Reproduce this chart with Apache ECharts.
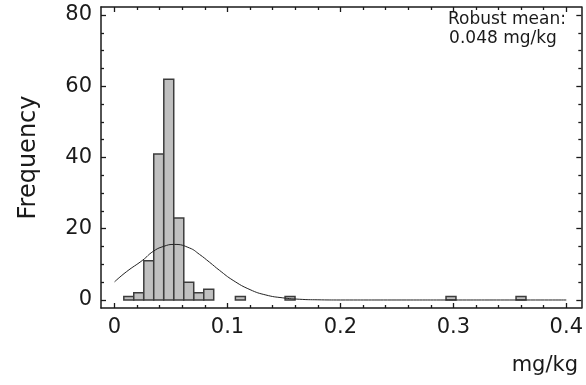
<!DOCTYPE html>
<html>
<head>
<meta charset="utf-8">
<script src="https://cdn.jsdelivr.net/npm/echarts@6.0.0/dist/echarts.min.js"></script>
<style>
html, body { margin: 0; padding: 0; background: #fff; }
#container { width: 586px; height: 385px; }
</style>
</head>
<body>
<div id="container"></div>
<script>
// histogram bins (left edge, mg/kg) and counts
var binStart = [0.0082, 0.0170, 0.0259, 0.0347, 0.0436, 0.0525, 0.0613, 0.0702, 0.0790, 0.1070, 0.1510, 0.2935, 0.3555];
var binWidth = 0.0088;
var binCount = [1, 2, 11, 41, 62, 23, 5, 2, 3, 1, 1, 1, 1];

// fitted curve
var curveX = [0, 0.0104, 0.025, 0.034, 0.043, 0.053, 0.0664, 0.0752, 0.0841, 0.093, 0.105, 0.12, 0.134, 0.149, 0.164, 0.18, 0.2, 0.25, 0.3, 0.35, 0.4];
var curveY = [5.1, 7.9, 11.2, 13.6, 15.0, 15.6, 14.6, 12.8, 10.6, 8.3, 5.5, 2.9, 1.4, 0.6, 0.2, 0.05, 0, 0, 0, 0, 0];

// ticks
var xMajor = [0, 0.1, 0.2, 0.3, 0.4];
var xMinor = [0.02, 0.04, 0.06, 0.08, 0.12, 0.14, 0.16, 0.18, 0.22, 0.24, 0.26, 0.28, 0.32, 0.34, 0.36, 0.38];
var yMajor = [0, 20, 40, 60, 80];
var yMinor = [5, 10, 15, 25, 30, 35, 45, 50, 55, 65, 70, 75];

var FONT = 'DejaVu Sans';
var INK = '#1a1a1a';

function axis(pos, min, max, ticks, len, withLine, withLabel) {
	return {
		type: 'value',
		position: pos,
		min: min,
		max: max,
		splitLine: { show: false },
		axisLine: { show: withLine, onZero: false, lineStyle: { color: INK, width: 1.5 } },
		axisTick: { show: true, inside: true, length: len, customValues: ticks, lineStyle: { color: INK, width: 1.3 } },
		axisLabel: withLabel ? {
			show: true, customValues: ticks, margin: 9,
			fontFamily: FONT, fontSize: 21, color: INK
		} : { show: false }
	};
}

var xMin = -0.012, xMax = 0.4133;
var yMin = -2.25, yMax = 82.25;

var bars = [];
for (var i = 0; i < binStart.length; i++) {
	bars.push([binStart[i], binStart[i] + binWidth, binCount[i]]);
}
var curve = [];
for (var j = 0; j < curveX.length; j++) {
	curve.push([curveX[j], curveY[j]]);
}

var xAxes = [
	axis('bottom', xMin, xMax, xMajor, 5, true, true),
	axis('bottom', xMin, xMax, xMinor, 3, false, false),
	axis('top', xMin, xMax, xMajor, 5, true, false),
	axis('top', xMin, xMax, xMinor, 3, false, false)
];
var yAxes = [
	axis('left', yMin, yMax, yMajor, 5, true, true),
	axis('left', yMin, yMax, yMinor, 3, false, false),
	axis('right', yMin, yMax, yMajor, 5, true, false),
	axis('right', yMin, yMax, yMinor, 3, false, false)
];
yAxes[0].name = 'Frequency';
yAxes[0].nameLocation = 'middle';
yAxes[0].nameGap = 60;
yAxes[0].nameTextStyle = { fontFamily: FONT, fontSize: 24, color: INK };

var myChart = echarts.init(document.getElementById('container'));
var option = {
	animation: false,
	backgroundColor: '#fff',
	grid: { left: 101, right: 4, top: 7, bottom: 77 },
	xAxis: xAxes,
	yAxis: yAxes,
	graphic: [
		{ type: 'text', x: 507, y: 20, style: { text: 'Robust mean:', textAlign: 'center', textVerticalAlign: 'middle', font: '17px "DejaVu Sans"', fill: INK } },
		{ type: 'text', x: 503, y: 39, style: { text: '0.048 mg/kg', textAlign: 'center', textVerticalAlign: 'middle', font: '17px "DejaVu Sans"', fill: INK } },
		{ type: 'text', x: 578, y: 366, style: { text: 'mg/kg', textAlign: 'right', textVerticalAlign: 'middle', font: '21px "DejaVu Sans"', fill: INK } }
	],
	series: [
		{
			type: 'custom',
			xAxisIndex: 0,
			yAxisIndex: 0,
			data: bars,
			renderItem: function (params, api) {
				var p0 = api.coord([api.value(0), api.value(2)]);
				var p1 = api.coord([api.value(1), 0]);
				return {
					type: 'rect',
					shape: { x: p0[0], y: p0[1], width: p1[0] - p0[0], height: p1[1] - p0[1] },
					style: { fill: '#c0c0c0', stroke: '#3c3c3c', lineWidth: 1.5 }
				};
			}
		},
		{
			type: 'line',
			xAxisIndex: 0,
			yAxisIndex: 0,
			data: curve,
			smooth: true,
			showSymbol: false,
			lineStyle: { color: '#222', width: 1 }
		}
	]
};
myChart.setOption(option);
</script>
</body>
</html>
